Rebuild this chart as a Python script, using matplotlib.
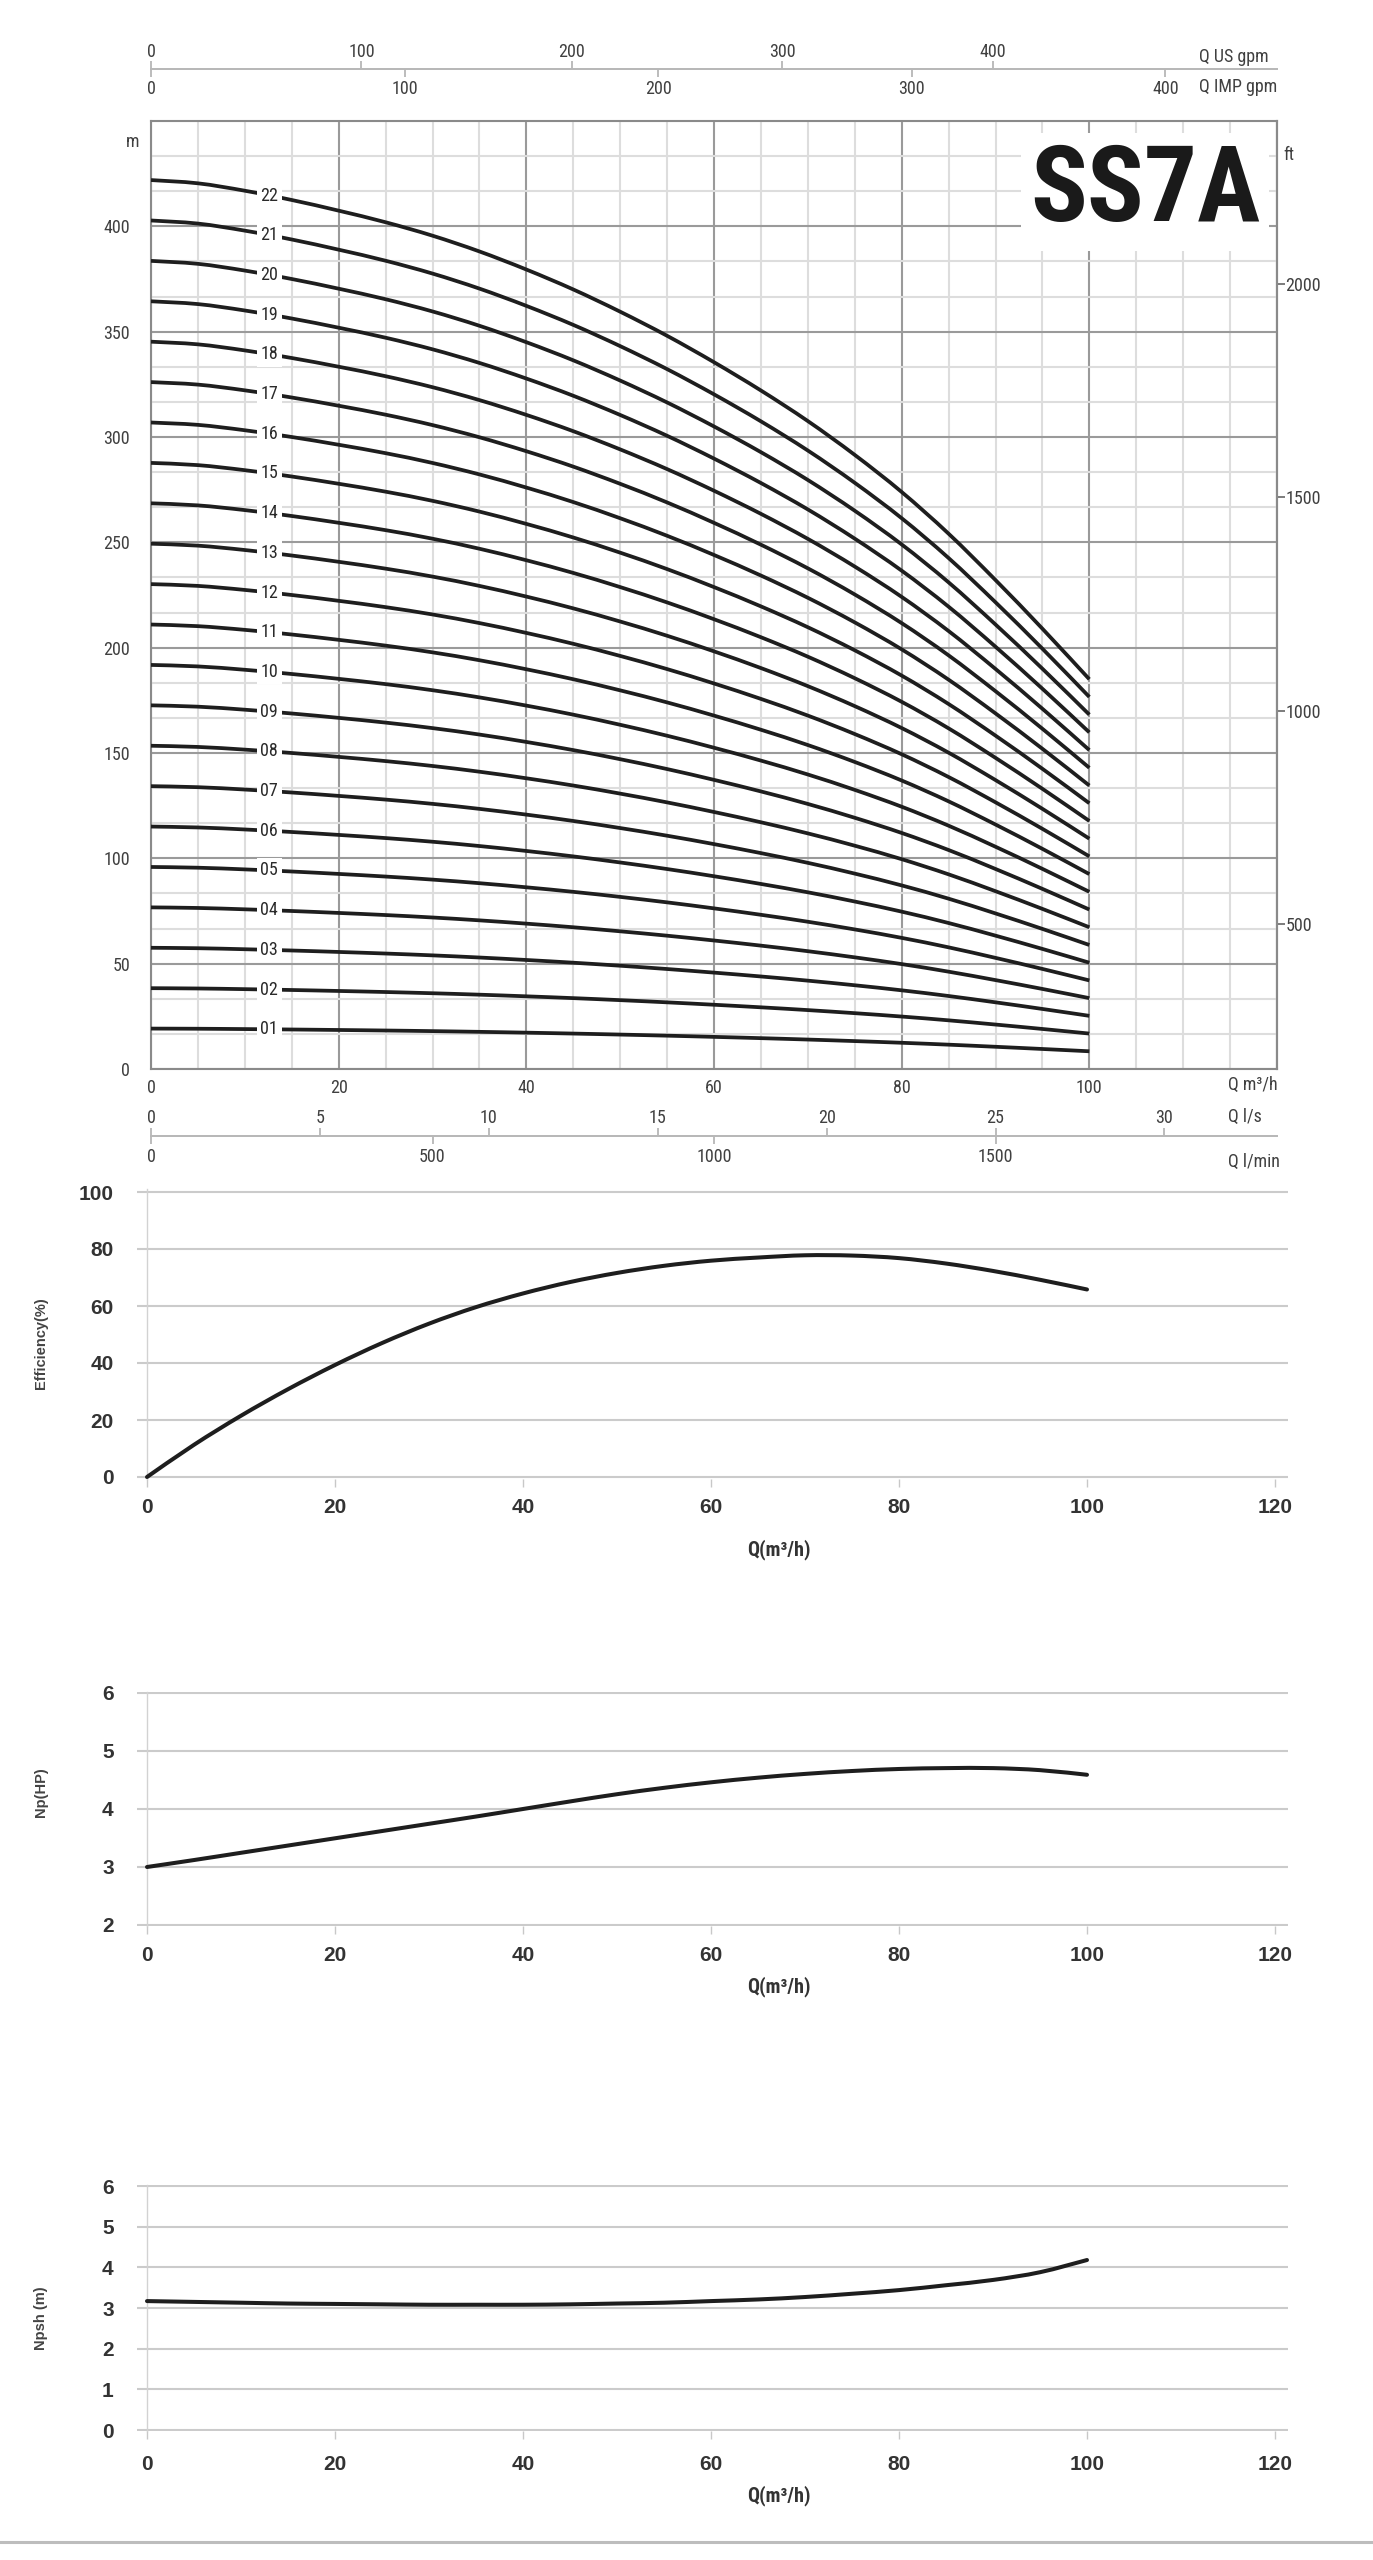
import numpy as np
import matplotlib
matplotlib.use("Agg")
import matplotlib.pyplot as plt
from matplotlib import font_manager
from matplotlib.lines import Line2D
from matplotlib.path import Path
from matplotlib.patches import PathPatch
from matplotlib.ticker import MultipleLocator, NullLocator

# ==========================================================
# Data
# ==========================================================

flow = [0, 5, 10, 15, 20, 25, 30, 35, 40, 45, 50,
        55, 60, 65, 70, 75, 80, 85, 90, 95, 100]          # Q m3/h

# head of a single stage (m); an n-stage pump gives n times this
stage_head = [19.18, 19.11, 18.95, 18.75, 18.52, 18.27, 17.98, 17.64,
              17.25, 16.82, 16.34, 15.82, 15.25, 14.64, 13.98, 13.25,
              12.45, 11.55, 10.55, 9.50, 8.41]

stages = list(range(1, 23))

efficiency = [0, 11.3, 21.5, 30.8, 39.3, 47.0, 53.8, 59.6, 64.4, 68.4, 71.6,
              74.1, 75.9, 77.0, 77.8, 77.7, 76.8, 74.9, 72.3, 69.2, 65.8]

power_hp = [3.00, 3.12, 3.245, 3.37, 3.495, 3.62, 3.745, 3.87, 4.00, 4.13, 4.255,
            4.365, 4.46, 4.54, 4.605, 4.655, 4.69, 4.705, 4.705, 4.67, 4.59]

npsh = [3.17, 3.15, 3.13, 3.11, 3.10, 3.09, 3.08, 3.08, 3.08, 3.09, 3.11,
        3.13, 3.17, 3.21, 3.27, 3.35, 3.44, 3.56, 3.69, 3.88, 4.18]

q_ticks = [0, 20, 40, 60, 80, 100, 120]
q_labels = ["0", "20", "40", "60", "80", "100", ""]
head_ticks = list(range(0, 401, 50))
us_gpm_ticks = [0, 100, 200, 300, 400]
imp_gpm_ticks = [0, 100, 200, 300, 400]
ls_ticks = [0, 5, 10, 15, 20, 25, 30]
lmin_ticks = [0, 500, 1000, 1500]
ft_ticks = [500, 1000, 1500, 2000]

# scale factors as printed on the sheet
US_GPM_PER_M3H = 4.46
IMP_GPM_PER_M3H = 3.70
LS_PER_M3H = 1 / 3.6
LMIN_PER_M3H = 1000 / 60
FT_M_PER_FT = 0.2026
FT_M_OFFSET = -32.5

LABEL_Q = 12.6

# ==========================================================
# Fonts / layout helpers
# ==========================================================

W, H = 1373, 2560


def has_font(name):
    try:
        font_manager.findfont(font_manager.FontProperties(family=name),
                              fallback_to_default=False)
        return True
    except ValueError:
        return False


NARROW = "Liberation Sans"
for cand in ["Liberation Sans Narrow", "Roboto Condensed", "Noto Sans Condensed",
             "Open Sans Condensed", "Arial Narrow", "DejaVu Sans Condensed"]:
    if has_font(cand):
        NARROW = cand
        break
REGULAR = "Liberation Sans"

plt.rcParams["font.family"] = [NARROW, "DejaVu Sans"]

GRAY_TXT = "#404040"


def axes_rect(x_px, x_val, y_px, y_val, xlim, ylim):
    sx = (x_px[1] - x_px[0]) / (x_val[1] - x_val[0])
    sy = (y_px[0] - y_px[1]) / (y_val[1] - y_val[0])
    left = x_px[0] + (xlim[0] - x_val[0]) * sx
    right = x_px[0] + (xlim[1] - x_val[0]) * sx
    bottom = y_px[0] - (ylim[0] - y_val[0]) * sy
    top = y_px[0] - (ylim[1] - y_val[0]) * sy
    return [left / W, 1 - bottom / H, (right - left) / W, (bottom - top) / H]


def fx(x):
    return x / W


def fy(y):
    return 1 - y / H


def smooth_curve(axis, xs, ys, **style):
    # Catmull-Rom through the read points, drawn as cubic Bezier segments
    pts = np.column_stack([xs, ys]).astype(float)
    n = len(pts)
    verts = [pts[0]]
    codes = [Path.MOVETO]
    for i in range(n - 1):
        p0 = pts[max(i - 1, 0)]
        p1 = pts[i]
        p2 = pts[i + 1]
        p3 = pts[min(i + 2, n - 1)]
        verts += [p1 + (p2 - p0) / 6, p2 - (p3 - p1) / 6, p2]
        codes += [Path.CURVE4] * 3
    axis.add_patch(PathPatch(Path(verts, codes), fill=False, **style))


fig = plt.figure(figsize=(W / 100, H / 100), dpi=100)
fig.patch.set_facecolor("white")

# ==========================================================
# Head curves
# ==========================================================

ax = fig.add_axes(axes_rect((151, 1277), (0, 120), (1069, 121), (0, 450),
                            (0, 120), (0, 450)))
ax.set_xlim(0, 120)
ax.set_ylim(0, 450)
ax.set_xticks(q_ticks, labels=q_labels)
ax.set_yticks(head_ticks)
ax.xaxis.set_minor_locator(MultipleLocator(5))
ax.yaxis.set_minor_locator(MultipleLocator(50 / 3))
ax.grid(which="major", color="#9a9a9a", linewidth=1.5)
ax.grid(which="minor", color="#dddddd", linewidth=1.5)
ax.set_axisbelow(True)
ax.tick_params(which="both", length=0, labelsize=13, labelcolor=GRAY_TXT)
ax.tick_params(axis="x", pad=7)
ax.tick_params(axis="y", pad=15)
for side in ax.spines.values():
    side.set_color("#8a8a8a")
    side.set_linewidth(1.5)

flow_arr = np.array(flow)
for n in stages:
    head = n * np.array(stage_head)
    smooth_curve(ax, flow_arr, head, edgecolor="#1e1e1e", linewidth=2.7,
                 capstyle="butt", zorder=3)
    ax.text(LABEL_Q, np.interp(LABEL_Q, flow_arr, head), f"{n:02d}",
            ha="center", va="center", fontsize=13, color="#2a2a2a",
            bbox=dict(facecolor="white", edgecolor="none", pad=2.5), zorder=4)

ft_axis = ax.secondary_yaxis(
    "right",
    functions=(lambda m: (m - FT_M_OFFSET) / FT_M_PER_FT,
               lambda ft: ft * FT_M_PER_FT + FT_M_OFFSET),
)
ft_axis.set_yticks(ft_ticks)
ft_axis.yaxis.set_minor_locator(NullLocator())
ft_axis.tick_params(direction="out", length=6, width=1.2, color="#666666",
                    pad=0, labelsize=13, labelcolor=GRAY_TXT)
ft_axis.spines["right"].set_color("#8a8a8a")
ft_axis.spines["right"].set_linewidth(1.5)

ss_size = 76 if NARROW != "Liberation Sans" else 62
fig.text(fx(1145), fy(192), "SS7A", ha="center", va="center", fontsize=ss_size,
         fontweight="bold", color="#1a1a1a", zorder=3,
         bbox=dict(facecolor="white", edgecolor="none", pad=6))
fig.text(fx(139), fy(142), "m", ha="right", va="center", fontsize=13, color=GRAY_TXT)
fig.text(fx(1283), fy(155), "ft", ha="left", va="center", fontsize=13,
         color=GRAY_TXT, zorder=5)

fig.text(fx(1228), fy(1090), "Q m³/h", ha="left", va="baseline", fontsize=13, color=GRAY_TXT)
fig.text(fx(1228), fy(1122), "Q l/s", ha="left", va="baseline", fontsize=13, color=GRAY_TXT)
fig.text(fx(1228), fy(1167), "Q l/min", ha="left", va="baseline", fontsize=13, color=GRAY_TXT)
fig.text(fx(1199), fy(62), "Q US gpm", ha="left", va="baseline", fontsize=13, color=GRAY_TXT)
fig.text(fx(1199), fy(92), "Q IMP gpm", ha="left", va="baseline", fontsize=13, color=GRAY_TXT)


# ==========================================================
# Extra flow scales (gpm above, l/s + l/min below)
# ==========================================================

def scale_line(y_px, upper, lower):
    holder = fig.add_axes([fx(151), fy(y_px), (1277 - 151) / W, 0.4 / H])
    holder.set_xlim(0, 120)
    holder.set_xticks([])
    holder.set_yticks([])
    holder.patch.set_visible(False)
    for side in holder.spines.values():
        side.set_visible(False)

    for where, (factor, ticks, pad) in (("top", upper), ("bottom", lower)):
        sec = holder.secondary_xaxis(
            where, functions=(lambda q, f=factor: q * f, lambda v, f=factor: v / f)
        )
        sec.set_xticks(ticks)
        sec.xaxis.set_minor_locator(NullLocator())
        sec.tick_params(direction="out", length=5.5, width=1.2, color="#b0b0b0",
                        pad=pad, labelsize=13, labelcolor=GRAY_TXT)
        sec.spines[where].set_color("#b8b8b8")
        sec.spines[where].set_linewidth(1.4)


scale_line(69, (US_GPM_PER_M3H, us_gpm_ticks, 0), (IMP_GPM_PER_M3H, imp_gpm_ticks, 2.5))
scale_line(1136, (LS_PER_M3H, ls_ticks, 1), (LMIN_PER_M3H, lmin_ticks, 3))


# ==========================================================
# Efficiency / power / NPSH panels
# ==========================================================

def small_panel(y0_px, y1_px, y0, y1, ylim, yticks, values, ylabel,
                ylabel_y, xlabel_y, pad_x):
    xlim = (-1.06, 121.4)
    pax = fig.add_axes(axes_rect((147, 1087), (0, 100), (y0_px, y1_px),
                                 (y0, y1), xlim, ylim))
    pax.set_xlim(*xlim)
    pax.set_ylim(*ylim)
    pax.set_xticks(q_ticks)
    pax.set_yticks(yticks)
    pax.grid(axis="y", color="#cbcbcb", linewidth=1.5)
    pax.set_axisbelow(True)
    for name in ("top", "right", "bottom"):
        pax.spines[name].set_visible(False)
    pax.spines["left"].set_position(("data", 0))
    pax.spines["left"].set_color("#d2d2d2")
    pax.spines["left"].set_linewidth(1.0)
    pax.tick_params(axis="x", direction="out", length=5.8, width=1.0,
                    color="#c8c8c8", pad=pad_x, labelsize=15, labelcolor="#333333")
    pax.tick_params(axis="y", length=0, pad=24, labelsize=15, labelcolor="#333333")
    for lbl in pax.get_xticklabels() + pax.get_yticklabels():
        lbl.set_fontfamily(REGULAR)
        lbl.set_fontweight("bold")

    smooth_curve(pax, flow, values, edgecolor="#1e1e1e", linewidth=2.9,
                 capstyle="round", zorder=3)

    fig.text(fx(41), fy(ylabel_y), ylabel, rotation=90, ha="center", va="center",
             fontsize=10.5, fontweight="bold", family=REGULAR, color="#444444")
    fig.text(fx(779), fy(xlabel_y), "Q(m³/h)", ha="center", va="center",
             fontsize=14.5, fontweight="bold", family=[NARROW, REGULAR],
             color="#333333")
    return pax


small_panel(1477, 1192, 0, 100, (-0.6, 101), [0, 20, 40, 60, 80, 100],
            efficiency, "Efficiency(%)", 1343, 1550, 8)
small_panel(1925, 1693, 2, 6, (1.985, 6.02), [2, 3, 4, 5, 6],
            power_hp, "Np(HP)", 1792, 1987, 9)
small_panel(2430, 2186, 0, 6, (-0.03, 6.03), [0, 1, 2, 3, 4, 5, 6],
            npsh, "Npsh (m)", 2318, 2496, 11)

fig.add_artist(Line2D([0, 1], [fy(2542), fy(2542)], transform=fig.transFigure,
                      color="#bdbdbd", linewidth=2.2))

fig.savefig("out.png", dpi=100, facecolor="white")
plt.close(fig)
